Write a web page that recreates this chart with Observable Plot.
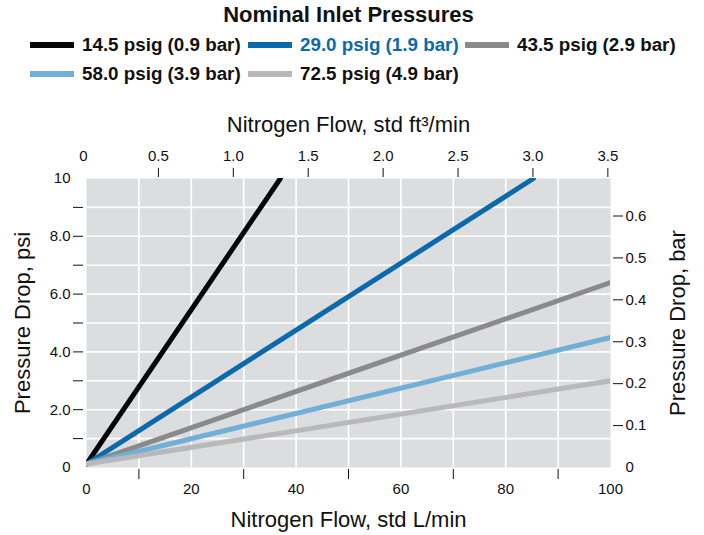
<!DOCTYPE html>
<html><head><meta charset="utf-8">
<script src="https://cdn.jsdelivr.net/npm/d3@7"></script>
<script src="https://cdn.jsdelivr.net/npm/@observablehq/plot@0.6"></script>
<style>
body{margin:0;background:#fff;font-family:"Liberation Sans",Arial,sans-serif;color:#111;}
#head{position:relative;width:704px;height:90px;}
#title{position:absolute;left:0;width:697px;top:2px;text-align:center;font-weight:bold;font-size:22px;}
.sw{position:absolute;height:6px;width:44px;}
.lt{position:absolute;font-weight:bold;font-size:18.8px;white-space:nowrap;line-height:22px;}
#chart svg{display:block;}
</style></head><body>
<div id="head"><div id="title">Nominal Inlet Pressures</div></div>
<div id="chart"></div>
<script>
// Series
const series = ["14.5 psig (0.9 bar)", "29.0 psig (1.9 bar)", "43.5 psig (2.9 bar)", "58.0 psig (3.9 bar)", "72.5 psig (4.9 bar)"];
const colors = ["#050505", "#0a6aab", "#8a8a8c", "#72afd6", "#b9b9bb"];
const textColors = ["#111", "#0a6aab", "#111", "#111", "#111"];
// Line points (flow L/min, pressure drop psi)
const flowStart = [0, 0, 0, 0, 0];
const psiStart = [0.12, 0.12, 0.12, 0.12, 0.12];
const flowEnd = [37, 85.3, 100, 100, 100];
const psiEnd = [10, 10, 6.4, 4.5, 3.0];
// Axis ticks
const xLabels = [0, 20, 40, 60, 80, 100];
const xMinor = [10, 30, 50, 70, 90];
const xGrid = [10, 20, 30, 40, 50, 60, 70, 80, 90];
const yLabels = [0, 2, 4, 6, 8, 10];
const yMinor = [1, 2, 3, 4, 5, 6, 7, 8, 9];
const yGrid = [1, 2, 3, 4, 5, 6, 7, 8, 9];
const barTicks = [0.1, 0.2, 0.3, 0.4, 0.5, 0.6];
const barLabels = [0, 0.1, 0.2, 0.3, 0.4, 0.5, 0.6];
const ftTicks = [0.5, 1.0, 1.5, 2.0, 2.5, 3.0, 3.5];
const ftLabels = [0, 0.5, 1.0, 1.5, 2.0, 2.5, 3.0, 3.5];
const PSI_PER_BAR = 14.5038;
const ftToL = v => v * 28.59 - 0.57;
const LToFt = v => Math.round((v + 0.57) / 28.59 * 2) / 2;

// legend
const head = document.getElementById("head");
const legendPos = [[30, 34], [248, 34], [465, 34], [30, 63], [248, 63]];
series.forEach((s, i) => {
  const [x, y] = legendPos[i];
  const sw = document.createElement("div");
  sw.className = "sw"; sw.style.left = x + "px"; sw.style.top = (y + 8) + "px"; sw.style.background = colors[i];
  head.appendChild(sw);
  const t = document.createElement("div");
  t.className = "lt"; t.style.left = (x + 52) + "px"; t.style.top = y + "px"; t.style.color = textColors[i];
  t.textContent = s;
  head.appendChild(t);
});

const lineData = series.flatMap((s, i) => [
  {s, flow: flowStart[i], psi: psiStart[i]},
  {s, flow: flowEnd[i], psi: psiEnd[i]}
]);

const fmtPsi = d => d === 0 ? "0" : d === 10 ? "10" : d.toFixed(1);
const fmtBar = d => { const b = Math.round(d / PSI_PER_BAR * 10) / 10; return b === 0 ? "0" : b.toFixed(1); };
const fmtFt = d => { const f = LToFt(d); return f === 0 ? "0" : f.toFixed(1); };

const chart = Plot.plot({
  width: 704, height: 445,
  marginTop: 88, marginBottom: 68, marginLeft: 86, marginRight: 94,
  x: {domain: [0, 100]},
  y: {domain: [0, 10]},
  color: {domain: series, range: colors},
  style: {fontFamily: "Liberation Sans, Arial, sans-serif", fontSize: "15px", color: "#111", background: "#fff"},
  marks: [
    Plot.frame({fill: "#dcdddf", stroke: null}),
    Plot.gridX(xGrid, {stroke: "#fff", strokeOpacity: 1, strokeWidth: 1.6}),
    Plot.gridY(yGrid, {stroke: "#fff", strokeOpacity: 1, strokeWidth: 1.6}),
    Plot.line(lineData, {x: "flow", y: "psi", z: "s", stroke: "s", strokeWidth: 5, clip: true}),
    // bottom axis
    Plot.axisX(xMinor, {anchor: "bottom", tickSize: 10, dy: 2, tickFormat: () => "", label: null, stroke: "#111"}),
    Plot.axisX(xLabels, {anchor: "bottom", tickSize: 0, tickPadding: 16, label: null}),
    // left axis
    Plot.axisY(yMinor, {anchor: "left", tickSize: 10, dx: -3, tickFormat: () => "", label: null, stroke: "#111"}),
    Plot.axisY(yLabels, {anchor: "left", tickSize: 0, tickPadding: 16, tickFormat: fmtPsi, label: null}),
    // right axis (bar)
    Plot.axisY(barTicks.map(b => b * PSI_PER_BAR), {anchor: "right", tickSize: 10, dx: 2, tickFormat: () => "", label: null, stroke: "#111"}),
    Plot.axisY(barLabels.map(b => b * PSI_PER_BAR), {anchor: "right", tickSize: 0, tickPadding: 15, tickFormat: fmtBar, label: null}),
    // top axis (ft3/min)
    Plot.axisX(ftTicks.map(ftToL), {anchor: "top", tickSize: 9, dy: -2, tickFormat: () => "", label: null, stroke: "#111"}),
    Plot.axisX(ftLabels.map(ftToL), {anchor: "top", tickSize: 0, tickPadding: 18, tickFormat: fmtFt, label: null}),
    // axis titles
    Plot.text(["Nitrogen Flow, std L/min"], {frameAnchor: "bottom", dy: 52, lineAnchor: "middle", fontSize: 22, fill: "#111"}),
    Plot.text(["Nitrogen Flow, std ft³/min"], {frameAnchor: "top", dy: -54, lineAnchor: "middle", fontSize: 22, fill: "#111"}),
    Plot.text(["Pressure Drop, psi"], {frameAnchor: "left", dx: -64, rotate: -90, textAnchor: "middle", lineAnchor: "middle", fontSize: 22, fill: "#111"}),
    Plot.text(["Pressure Drop, bar"], {frameAnchor: "right", dx: 67, rotate: -90, textAnchor: "middle", lineAnchor: "middle", fontSize: 22, fill: "#111"})
  ]
});
document.getElementById("chart").appendChild(chart);
</script>
</body></html>
